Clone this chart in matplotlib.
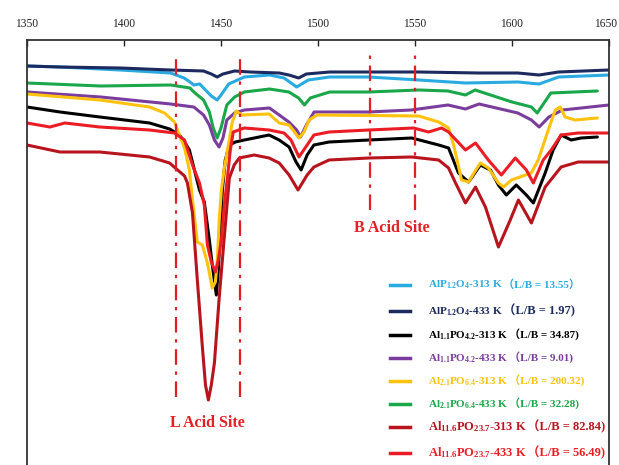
import matplotlib
matplotlib.use("Agg")
import matplotlib.pyplot as plt
from matplotlib.lines import Line2D
from matplotlib.offsetbox import TextArea, HPacker, AnnotationBbox
import matplotlib.transforms as mtransforms

plt.rcParams['font.family'] = ['Liberation Serif', 'Noto Sans CJK SC']
plt.rcParams['mathtext.default'] = 'regular'

# wavenumber (cm-1) and transmittance (a.u.)
wn_alp_433 = [1350, 1367, 1398, 1424, 1441, 1445, 1448, 1451, 1457, 1465, 1480, 1485, 1490, 1494,
              1506, 1526, 1552, 1583, 1603, 1614, 1624, 1650]
t_alp_433 = [399, 398, 397, 395, 394, 391, 388, 391, 394, 393, 392, 390, 387, 391,
             393, 393, 393, 392, 392, 390, 393, 395]

wn_alp_313 = [1350, 1367, 1398, 1424, 1431, 1434, 1436, 1439, 1442, 1445, 1448, 1450, 1454, 1462,
              1475, 1482.5, 1489, 1495, 1506, 1526, 1552, 1576, 1603, 1614, 1624, 1650]
t_alp_313 = [399, 398, 395, 392, 387, 383, 380, 381, 375, 369, 365, 370, 381, 388,
             390, 387, 378, 385, 388, 388, 385, 382, 383, 381, 388, 390]

wn_al21_433 = [1350, 1388, 1424, 1434, 1436, 1441, 1444, 1446, 1448, 1450, 1453, 1457, 1462, 1475,
               1485, 1490, 1493, 1496, 1506, 1526, 1552, 1567, 1576, 1581, 1600, 1610, 1613, 1620, 1644]
t_al21_433 = [382, 379, 380, 377, 373, 365, 353, 337, 327, 337, 360, 368, 373, 376,
              373, 367, 360, 367, 373, 373, 375, 374, 370, 375, 363, 358, 352, 372, 374]

wn_al11_433 = [1350, 1388, 1424, 1436, 1441, 1444, 1446.6, 1449, 1451, 1453, 1457, 1462, 1475, 1480,
               1485, 1489, 1491, 1494, 1498, 1526, 1548, 1567, 1576, 1583, 1603, 1610, 1614, 1619,
               1626, 1650]
t_al11_433 = [373, 368, 361, 358, 350, 340, 325, 318, 327, 345, 352, 355, 357, 350,
              343, 335, 328, 340, 353, 353, 355, 360, 356, 361, 352, 345, 338, 348,
              355, 360]

wn_al21_313 = [1350, 1387.5, 1413.2, 1420.9, 1426, 1431.2, 1433.7, 1435.3, 1436.8, 1437.8, 1440.4,
               1443, 1445.5, 1447.1, 1448.1, 1449.1, 1450.2, 1451.7, 1454.3, 1455.8, 1457.9, 1460.4,
               1474.8, 1480, 1485.1, 1490.2, 1492.8, 1495.4, 1499.5, 1551.9, 1562.2, 1567.3, 1569.9,
               1574, 1577.6, 1580.7, 1583.7, 1587.8, 1593, 1595.6, 1599.7, 1609.9, 1613.5, 1618.7,
               1622.3, 1624.8, 1627.4, 1632.5, 1644]
t_al21_313 = [371, 365, 358, 352, 343, 317, 295, 265, 240, 223, 220,
              202, 177, 183, 205, 245, 275, 297, 325, 343, 354, 350,
              351, 342, 340, 327, 333, 345, 350, 349, 343, 337, 320,
              285, 283, 293, 302, 297, 282, 278, 285, 292, 305, 335,
              355, 358, 348, 345, 347]

wn_al11_313 = [1350, 1367, 1387.5, 1413.2, 1423.5, 1428.6, 1431.2, 1433.7, 1436.3, 1438.9, 1441.4,
               1444, 1445.5, 1447.6, 1448.6, 1449.7, 1450.7, 1452.2, 1454.3, 1457.4, 1462, 1474.8,
               1480, 1485.1, 1488.7, 1491.3, 1494.4, 1497.9, 1505.7, 1526.2, 1548.3, 1562.2, 1567.3,
               1572.4, 1577.6, 1583.7, 1588.9, 1593, 1597.1, 1602.2, 1607.4, 1611, 1617.1, 1621.2,
               1625.3, 1630.5, 1635.6, 1644]
t_al11_313 = [358, 353, 348, 342, 336, 330, 323, 315, 295, 275, 263,
              225, 200, 170, 195, 235, 275, 305, 320, 323, 325, 330,
              325, 318, 303, 295, 310, 320, 323, 325, 327, 320, 317,
              292, 283, 300, 295, 280, 270, 280, 270, 262, 292, 315,
              330, 325, 327, 328]

wn_al116_313 = [1350, 1367, 1387.5, 1413.2, 1423.5, 1431.2, 1432.7, 1435.3, 1437.8, 1440.4, 1442,
                1443.5, 1445, 1446.6, 1449.1, 1451.7, 1454.3, 1456.8, 1459.4, 1467.1, 1474.8, 1480,
                1485.1, 1489.7, 1494.4, 1497.9, 1505.7, 1526.2, 1548.3, 1562.2, 1567.3, 1570.9, 1576,
                1581.2, 1586.3, 1593, 1599.1, 1603.3, 1610, 1617.1, 1625.3, 1634.1, 1650]
t_al116_313 = [320, 313, 313, 308, 302, 289, 282, 252, 185, 118, 80,
               65, 80, 102, 168, 228, 287, 300, 307, 310, 307, 302,
               290, 275, 290, 298, 305, 307, 308, 305, 297, 282, 262,
               278, 258, 218, 245, 265, 242, 278, 298, 303, 303]

wn_al116_433 = [1350, 1361.8, 1369.5, 1387.5, 1413.2, 1426, 1431.2, 1435.3, 1438.9, 1441.4, 1443,
                1445, 1447.1, 1448.6, 1450.2, 1451.7, 1453.3, 1454.8, 1456.3, 1462, 1474.8, 1482.5,
                1486.1, 1490.2, 1494.4, 1497.9, 1505.7, 1526.2, 1549.3, 1557, 1563.7, 1567.3, 1576,
                1581.2, 1587.8, 1594.5, 1601.7, 1607.4, 1611, 1616.1, 1620.2, 1625.3, 1634.1, 1650]
t_al116_433 = [342, 338, 342, 338, 335, 332, 325, 300, 282, 260, 220,
               203, 193, 205, 225, 260, 287, 315, 333, 337, 335, 332,
               325, 308, 320, 330, 333, 335, 337, 333, 337, 333, 315,
               322, 305, 290, 307, 295, 282, 305, 315, 330, 332, 332]

formulas = [r"AlP$_{1.2}$O$_{4}$-313 K", r"AlP$_{1.2}$O$_{4}$-433 K",
            r"Al$_{1.1}$PO$_{4.2}$-313 K", r"Al$_{1.1}$PO$_{4.2}$-433 K",
            r"Al$_{2.1}$PO$_{6.4}$-313 K", r"Al$_{2.1}$PO$_{6.4}$-433 K",
            r"Al$_{11.6}$PO$_{23.7}$-313 K", r"Al$_{11.6}$PO$_{23.7}$-433 K"]
lb_texts = ["（L/B = 13.55）", "（L/B = 1.97)", "（L/B = 34.87)", "（L/B = 9.01)",
            "（L/B = 200.32)", "（L/B = 32.28)", "（L/B = 82.84)", "（L/B = 56.49)"]
colors = ['#29abe2', '#1c2a5f', '#000000', '#7a3d9e', '#ffc20e', '#1aa64a', '#b8141e', '#ec1c24']
series = [(wn_alp_313, t_alp_313), (wn_alp_433, t_alp_433), (wn_al11_313, t_al11_313),
          (wn_al11_433, t_al11_433), (wn_al21_313, t_al21_313), (wn_al21_433, t_al21_433),
          (wn_al116_313, t_al116_313), (wn_al116_433, t_al116_433)]

l_site = [1427, 1460]
b_site = [1527, 1550]
red = '#e31e24'

W, H = 619, 465
fig = plt.figure(figsize=(W / 100, H / 100), dpi=100)
ax = fig.add_axes([27 / W, 0, (609 - 27) / W, (H - 40) / H])

draw_order = [0, 1, 5, 3, 2, 4, 6, 7]
for i in draw_order:
    x, y = series[i]
    ax.plot(x, y, color=colors[i], lw=2.2, solid_joinstyle='round', solid_capstyle='round')

for xv in l_site:
    ax.plot([xv, xv], [68, 412], color=red, lw=1.6, dashes=[7, 3, 1.5, 3])
for xv in b_site:
    ax.plot([xv, xv], [255, 412], color=red, lw=1.6, dashes=[7, 3, 1.5, 3])

ax.text(1443, 42, "L Acid Site", color=red, fontsize=11.5, fontweight='bold',
        ha='center', va='center')
ax.text(1538, 237, "B Acid Site", color=red, fontsize=11.5, fontweight='bold',
        ha='center', va='center')

ax.set_xlim(1350, 1650)
ax.set_ylim(0, 425)
ax.xaxis.tick_top()
ax.set_xticks([1350, 1400, 1450, 1500, 1550, 1600, 1650])
ax.tick_params(axis='x', direction='in', length=4, width=1, pad=7, labelsize=8.3, colors='#222222')
# nudge the last label so it stays inside the figure
last = ax.get_xticklabels()[-1]
last.set_transform(last.get_transform() + mtransforms.ScaledTranslation(-3 / 100, 0, fig.dpi_scale_trans))
ax.set_yticks([])
ax.spines['bottom'].set_visible(False)
for s in ['top', 'left', 'right']:
    ax.spines[s].set_linewidth(1.3)
    ax.spines[s].set_color('#333333')

# legend, one row at a time
row_y = [285, 311, 335, 358, 381, 404, 427, 453]
sizes = [8, 8, 8, 8, 8, 8, 9, 9]
for i in range(8):
    yf = 1 - row_y[i] / H
    fig.add_artist(Line2D([390 / W, 410 / W], [yf, yf], color=colors[i], lw=2.5,
                          transform=fig.transFigure))
    lb_size = 9 if i == 1 else sizes[i]
    box = HPacker(children=[
        TextArea(formulas[i], textprops=dict(color=colors[i], fontsize=sizes[i], fontweight='bold',
                                             family='Liberation Serif')),
        TextArea(lb_texts[i], textprops=dict(color=colors[i], fontsize=lb_size, fontweight='bold',
                                             family=['Liberation Serif', 'Noto Sans CJK SC'])),
    ], sep=0, pad=0, align='baseline')
    ab = AnnotationBbox(box, (428 / W, yf), xycoords='figure fraction', box_alignment=(0, 0.5),
                        frameon=False, pad=0)
    fig.add_artist(ab)

fig.savefig("out.png", dpi=100)
